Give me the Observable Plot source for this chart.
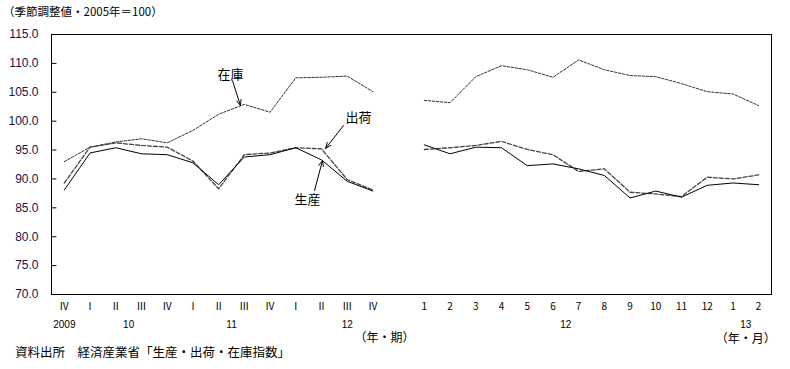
<!DOCTYPE html>
<html><head><meta charset="utf-8">
<script src="https://cdn.jsdelivr.net/npm/d3@7"></script>
<script src="https://cdn.jsdelivr.net/npm/@observablehq/plot@0.6"></script>
<style>
body{margin:0;background:#fff;}
#wrap{position:relative;width:790px;height:369px;overflow:hidden;}
#chart{position:absolute;left:0;top:0;}
.note{position:absolute;font-family:"Noto Sans CJK JP",sans-serif;color:#000;white-space:nowrap;}
#title{left:3px;top:3px;font-size:11.5px;}
#caption{left:15px;top:342px;font-size:12.5px;}
</style></head>
<body><div id="wrap"><div id="chart"></div>
<div id="title" class="note">（季節調整値・2005年＝100）</div>
<div id="caption" class="note">資料出所　経済産業省「生産・出荷・在庫指数」</div></div>
<script>
const quarterLabels = ["Ⅳ","Ⅰ","Ⅱ","Ⅲ","Ⅳ","Ⅰ","Ⅱ","Ⅲ","Ⅳ","Ⅰ","Ⅱ","Ⅲ","Ⅳ"];
const monthLabels = ["1","2","3","4","5","6","7","8","9","10","11","12","1","2"];
const prodQ = [88.1,94.5,95.4,94.35,94.2,92.8,89.0,93.8,94.2,95.4,93.3,89.6,87.9];
const shipQ = [89.3,95.5,96.25,95.8,95.5,93.1,88.3,94.2,94.5,95.4,95.2,89.9,88.1];
const invQ  = [93.0,95.5,96.4,96.95,96.25,98.4,101.2,102.9,101.55,107.5,107.6,107.8,105.1];
const prodM = [95.9,94.35,95.5,95.4,92.3,92.6,91.75,90.6,86.7,87.9,86.85,88.9,89.3,89.0];
const shipM = [95.1,95.4,95.8,96.5,95.1,94.2,91.3,91.75,87.7,87.4,86.95,90.3,90.0,90.7];
const invM  = [103.6,103.2,107.7,109.6,108.9,107.6,110.6,108.9,107.9,107.7,106.5,105.1,104.7,102.7];
const yearText = ["2009","10","11","12","12","13"];
const yearPos  = [0,2.5,6.5,11,19.5,26.5];
const unitQText = "（年・期）";
const unitQPos  = 12.45;
const unitMText = "（年・月）";
const unitMPos  = 26.5;
const annoText = ["在庫","出荷","生産"];
const annoX = [6.46,11.44,9.46];
const annoY = [108.1,100.5,86.45];
const arrX1 = [6.54,10.86,9.73];
const arrY1 = [107.0,99.25,88.0];
const arrX2 = [6.85,10.16,10.04];
const arrY2 = [102.7,95.3,93.2];
const yTicks = [70,75,80,85,90,95,100,105,110,115];

const gap = quarterLabels.length + 1; // index of first month
const labels = new Map();
quarterLabels.forEach((l,i)=>labels.set(i,l));
monthLabels.forEach((l,i)=>labels.set(gap+i,l));
const xTicks = [...labels.keys()];

const rows = [];
const add = (arr, series, seg, offset) => arr.forEach((v,i)=>rows.push({x:offset+i, v, series, seg}));
add(prodQ,"生産","q",0); add(prodM,"生産","m",gap);
add(shipQ,"出荷","q",0); add(shipM,"出荷","m",gap);
add(invQ,"在庫","q",0);  add(invM,"在庫","m",gap);
const sel = s => rows.filter(d=>d.series===s);

const annos = annoText.map((t,i)=>({t, x:annoX[i], y:annoY[i], x1:arrX1[i], y1:arrY1[i], x2:arrX2[i], y2:arrY2[i]}));
const years = yearText.map((t,i)=>({t, x:yearPos[i]}));
const jp = "Noto Sans CJK JP, sans-serif";
const tickShape = {draw(ctx, l) { ctx.moveTo(0, 0); ctx.lineTo(0, -l); }};

const chart = Plot.plot({
  width: 790, height: 369,
  marginLeft: 51, marginRight: 19, marginTop: 34, marginBottom: 75,
  style: {fontFamily: "Liberation Sans, sans-serif", background: "#fff", color: "#000"},
  x: {domain: [-0.5, 27.5], axis: null},
  y: {domain: [70, 115], axis: null},
  marks: [
    Plot.axisY({ticks: yTicks, tickSize: 0, tickPadding: 13, tickFormat: d => d.toFixed(1), fontSize: 12, fill: "#14144a", label: null}),
    Plot.vector(yTicks, {y: d => d, frameAnchor: "left", length: 4.5, rotate: 90, anchor: "start", shape: tickShape, stroke: "#000", strokeWidth: 1}),
    Plot.axisX({ticks: xTicks, tickSize: 0, tickPadding: 8, tickFormat: d => labels.get(d), fontSize: 10, fontFamily: jp, label: null}),
    Plot.frame({stroke: "#000", strokeWidth: 1}),
    Plot.line(sel("在庫"), {x: "x", y: "v", z: "seg", stroke: "#333", strokeWidth: 1, strokeDasharray: "2.5,1.5"}),
    Plot.line(sel("出荷"), {x: "x", y: "v", z: "seg", stroke: "#444", strokeWidth: 1.3, strokeDasharray: "4,2"}),
    Plot.line(sel("生産"), {x: "x", y: "v", z: "seg", stroke: "#000", strokeWidth: 1}),
    Plot.arrow(annos, {x1: "x1", y1: "y1", x2: "x2", y2: "y2", stroke: "#000", strokeWidth: 1, headLength: 9, headAngle: 45}),
    Plot.text(annos, {x: "x", y: "y", text: "t", fontSize: 13, fontFamily: jp, fill: "#000"}),
    Plot.text(years, {x: "x", text: "t", frameAnchor: "bottom", dy: 33, fontSize: 10, fill: "#000"}),
    Plot.text([unitQText], {x: unitQPos, text: d => d, frameAnchor: "bottom", dy: 47, fontSize: 12, fontFamily: jp, fill: "#000"}),
    Plot.text([unitMText], {x: unitMPos, text: d => d, frameAnchor: "bottom", dy: 48, fontSize: 12, fontFamily: jp, fill: "#000"})
  ]
});
document.getElementById("chart").appendChild(chart);
</script></body></html>
